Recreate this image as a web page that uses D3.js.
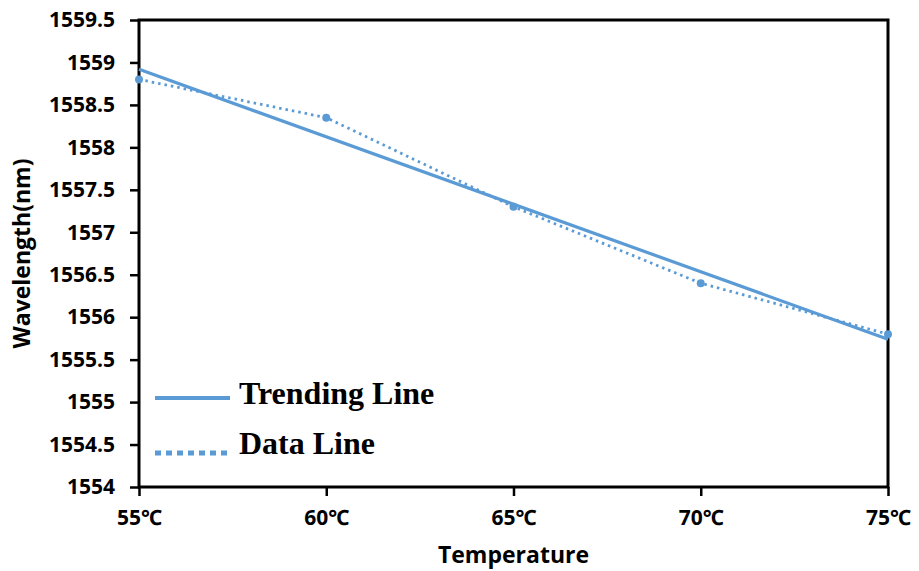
<!DOCTYPE html>
<html>
<head>
<meta charset="utf-8">
<script src="https://cdn.jsdelivr.net/npm/d3@7"></script>
<style>
    body { margin: 0; background: #fff; }
    svg { display: block; }
</style>
</head>
<body>
<div id="chart"></div>
<script>
// 数据
const temps = [55, 60, 65, 70, 75];
const tempLabels = ['55℃', '60℃', '65℃', '70℃', '75℃'];
const wavelengths = [1558.8, 1558.35, 1557.3, 1556.4, 1555.8];
const trendTemps = [55, 75];
const trendValues = [1558.92, 1555.74];
const yTicks = [1554, 1554.5, 1555, 1555.5, 1556, 1556.5, 1557, 1557.5, 1558, 1558.5, 1559, 1559.5];

const WIDTH = 919;
const HEIGHT = 571;
const LINE_COLOR = '#5B9BD5';
const margin = { left: 139, right: 919 - 888, top: 20, bottom: 571 - 487 };

const svg = d3.select('#chart').append('svg')
    .attr('width', WIDTH)
    .attr('height', HEIGHT);

const x = d3.scaleLinear().domain([55, 75]).range([margin.left, WIDTH - margin.right]);
const y = d3.scaleLinear().domain([1554, 1559.5]).range([HEIGHT - margin.bottom, margin.top]);

const tickFont = '"Open Sans", "Noto Sans", sans-serif';

// 坐标轴
const yAxis = svg.append('g')
    .attr('transform', `translate(${margin.left},0)`)
    .call(d3.axisLeft(y).tickValues(yTicks).tickSize(9).tickPadding(15).tickFormat(d => d3.format('')(d)));
const xAxis = svg.append('g')
    .attr('transform', `translate(0,${HEIGHT - margin.bottom})`)
    .call(d3.axisBottom(x).tickValues(temps).tickSize(9).tickPadding(14).tickFormat((d, i) => tempLabels[i]));

[yAxis, xAxis].forEach(g => {
    g.select('.domain').remove();
    g.selectAll('line').attr('stroke', '#000').attr('stroke-width', 2.5);
    g.selectAll('text')
        .attr('fill', '#000')
        .style('font-family', tickFont)
        .style('font-weight', 'bold')
        .style('font-size', '21px');
});

// 边框
svg.append('rect')
    .attr('x', margin.left)
    .attr('y', margin.top)
    .attr('width', x(75) - x(55))
    .attr('height', y(1554) - y(1559.5))
    .attr('fill', 'none')
    .attr('stroke', '#000')
    .attr('stroke-width', 3);

const line = d3.line().x(d => x(d[0])).y(d => y(d[1]));

// 趋势线
svg.append('path')
    .attr('d', line(d3.zip(trendTemps, trendValues)))
    .attr('fill', 'none')
    .attr('stroke', LINE_COLOR)
    .attr('stroke-width', 3.2);

// 数据线
svg.append('path')
    .attr('d', line(d3.zip(temps, wavelengths)))
    .attr('fill', 'none')
    .attr('stroke', LINE_COLOR)
    .attr('stroke-width', 2.8)
    .attr('stroke-dasharray', '2.5,4');

svg.selectAll('circle.pt')
    .data(d3.zip(temps, wavelengths))
    .enter().append('circle')
    .attr('class', 'pt')
    .attr('cx', d => x(d[0]))
    .attr('cy', d => y(d[1]))
    .attr('r', 4)
    .attr('fill', LINE_COLOR);

// 坐标轴标题
svg.append('text')
    .attr('x', (x(55) + x(75)) / 2)
    .attr('y', 563)
    .attr('text-anchor', 'middle')
    .style('font-family', tickFont)
    .style('font-weight', 'bold')
    .style('font-size', '23px')
    .text('Temperature');

svg.append('text')
    .attr('transform', `translate(30,${(y(1554) + y(1559.5)) / 2}) rotate(-90)`)
    .attr('text-anchor', 'middle')
    .style('font-family', tickFont)
    .style('font-weight', 'bold')
    .style('font-size', '23px')
    .text('Wavelength(nm)');

// 图例
const legendFont = '"Liberation Serif", "Times New Roman", serif';
const legend = [
    { label: 'Trending Line', y: 398, dash: null, textY: 404 },
    { label: 'Data Line', y: 453, dash: '6,5', textY: 454 }
];
legend.forEach(d => {
    svg.append('line')
        .attr('x1', 155).attr('x2', 230)
        .attr('y1', d.y).attr('y2', d.y)
        .attr('stroke', LINE_COLOR)
        .attr('stroke-width', d.dash ? 5 : 4)
        .attr('stroke-dasharray', d.dash);
    svg.append('text')
        .attr('x', 239)
        .attr('y', d.textY)
        .style('font-family', legendFont)
        .style('font-weight', 'bold')
        .style('font-size', '32px')
        .text(d.label);
});
</script>
</body>
</html>
